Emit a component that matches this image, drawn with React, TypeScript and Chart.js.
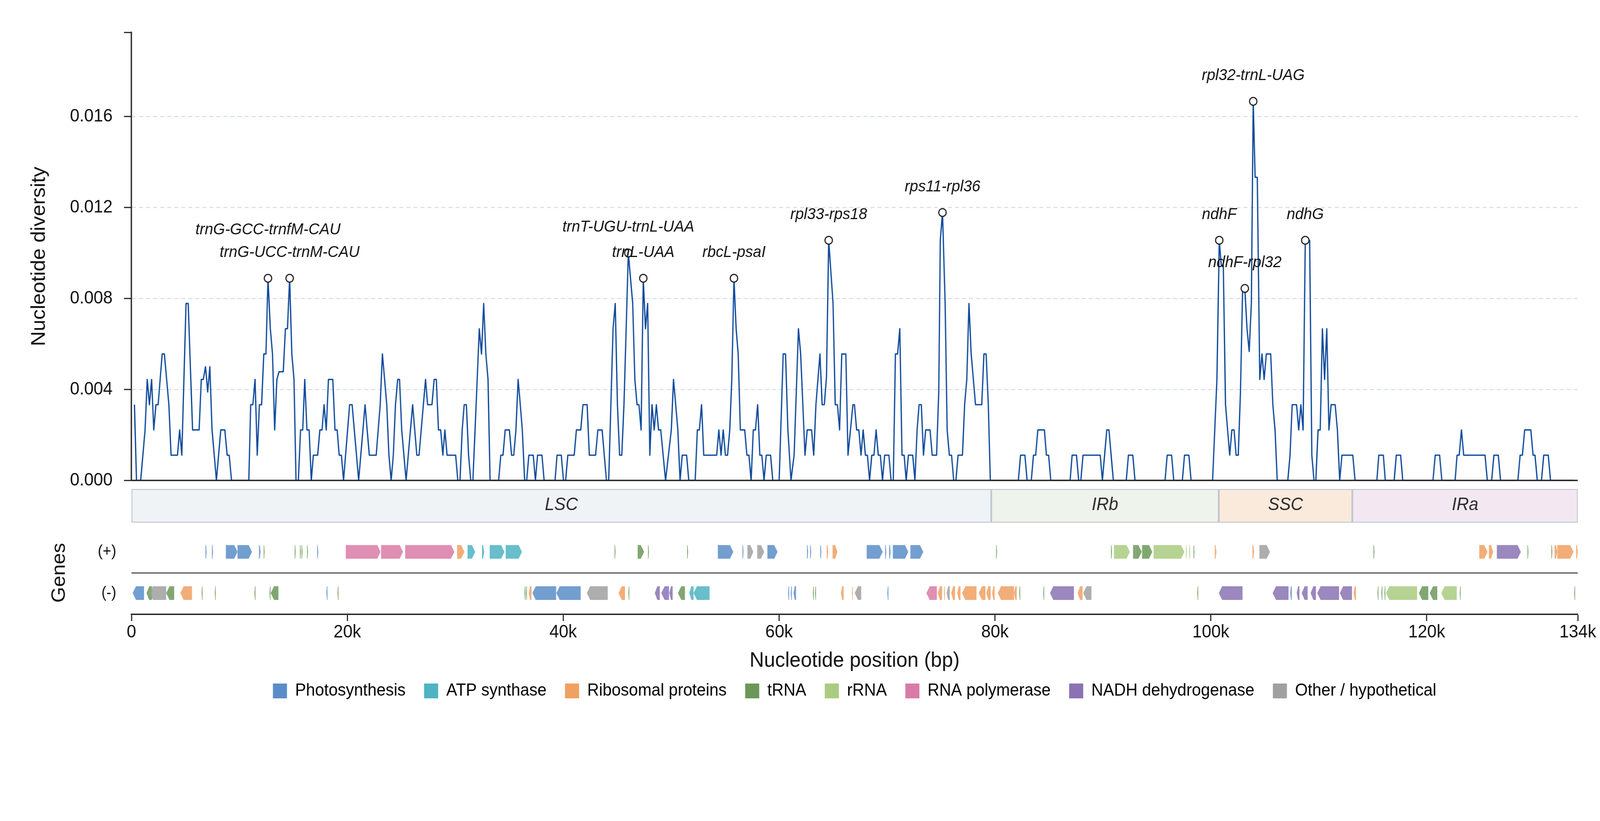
import React, { useEffect, useRef } from "react";
import { Chart, registerables } from "chart.js";

Chart.register(...registerables);

// ---------------- data ----------------
const GENOME_LENGTH = 134000;
const X_TICK_VALUES = [0, 20000, 40000, 60000, 80000, 100000, 120000, 134000];
const Y_TICK_VALUES = [0, 0.004, 0.008, 0.012, 0.016];
const Y_AXIS_MAX = 0.0197;

// sliding-window vertices (bp) and nucleotide diversity (Pi)
const WINDOW_POSITIONS = [
  280, 468, 857, 1262, 1464, 1666, 1868, 2070, 2272, 2474,
  2849, 3051, 3470, 3672, 4264, 4466, 4668, 5058, 5260, 5664,
  6270, 6472, 6660, 6862, 7064, 7266, 7469, 7873, 8277, 8652,
  8869, 9057, 9273, 10875, 11048, 11251, 11453, 11655, 11857, 12059,
  12261, 12463, 12651, 12867, 13069, 13271, 13474, 13676, 14065, 14267,
  14455, 14657, 14859, 15061, 15249, 15464, 15668, 15870, 16057, 16259,
  16462, 16664, 16851, 17255, 17458, 17660, 17847, 18049, 18252, 18656,
  18858, 19060, 19248, 19450, 19652, 20215, 20446, 21052, 21644,
  22039, 22674, 23049, 23251, 23655, 23857, 24060, 24262, 24464, 24666,
  24839, 25041, 25446, 26052, 26441, 26644, 27250, 27438, 27842, 28044,
  28246, 28448, 28650, 28852, 29040, 29242, 30036, 30238, 30440, 30642,
  30830, 31032, 31234, 31436, 31638, 32229, 32432, 32634, 32836, 33038,
  33226, 34020, 34222, 34424, 34626, 35016, 35218, 35420, 35622, 35824,
  36026, 36214, 36431, 36618, 36820, 37224, 37427, 37629, 38033, 38235,
  39245, 39433, 39823, 40025, 40227, 40429, 41021, 41223, 41627, 41829,
  42219, 42421, 42998, 43215, 43605, 44009,
  44216, 44621, 44823, 45025, 45227, 45429, 45631, 46036, 46439, 46641,
  46844, 47017, 47219, 47421, 47623, 47825, 48027, 48229, 48431, 48633,
  48836, 49038, 49485, 50019, 50221, 50625, 50828, 51030, 51434, 51636,
  52228, 52430, 52618, 52820, 53022, 54220, 54422, 54624, 54826, 55028,
  55230, 55432, 55620, 55822, 56024, 56212, 56414, 56818, 57020, 57208,
  57410, 57612, 57814, 58016, 58218, 58406, 58608, 58810, 59214, 59416,
  60008, 60383, 60600, 60817, 61105, 61394, 61798, 62000, 62404, 62607,
  63011, 63213, 63415, 63790, 63992, 64194, 64396, 64599, 65003, 65205,
  65407, 65609, 65811, 66186, 66388,
  66841, 66986, 67188, 67390, 67592, 67794, 67997, 68185, 68387, 68589,
  68790, 68992, 69194, 69382, 69584, 69786, 70176, 70378, 70580, 70782,
  70984, 71186, 71388, 71590, 71778, 71980, 72384, 72586, 72789, 72976,
  73178, 73380, 73583, 73987, 74189, 74593, 74795, 74939, 75141, 75387,
  75575, 75777, 75979, 76181, 76383, 76585, 76989, 77191, 77393, 77595,
  77798, 78202, 78779, 78981, 79183, 79385, 79573, 82171, 82373, 82777,
  82980, 83369, 83571, 83773, 83976, 84582, 84770, 84972, 85174, 86964,
  87151, 87555, 87757, 87960, 88162,
  89755, 89957, 90361, 90564, 90968, 92166, 92368, 92772, 92974, 95760,
  95962, 96366, 96570, 97362, 97564, 97969, 98171, 100163, 100567, 100783,
  100971, 101159, 101361, 101751, 101953, 102155, 102342, 102544, 102746, 102949,
  103151, 103353, 103555, 103757, 103930, 104104, 104306, 104537, 104739, 104941,
  105143, 105547, 105749, 105951, 106153, 107135, 107337, 107539, 107943, 108145,
  108347, 108549, 108751, 109156, 109358, 109560, 109733, 109935, 110137, 110339,
  110541, 110744, 110945, 111147,
  111520, 111730, 111940, 112149, 113153, 113363, 115385, 115565, 115984, 116164,
  116988, 117183, 117587, 117782, 120583, 120793, 121197, 121407, 122635, 122815,
  123010, 123220, 123429, 125407, 125617, 126021, 126231, 126635, 126845, 128448,
  128658, 128867, 129077, 129646, 129856, 130036, 130245, 130635, 130845, 131264,
  131474, 133600,
];

const NUCLEOTIDE_DIVERSITY = [
  0.00333, 0, 0, 0.00222, 0.00444, 0.00333, 0.00444, 0.00222, 0.00333, 0.00333,
  0.00556, 0.00556, 0.00333, 0.00111, 0.00111, 0.00222, 0.00111, 0.00778, 0.00778, 0.00222,
  0.00222, 0.00444, 0.00444, 0.005, 0.00389, 0.005, 0.00222, 0, 0.00222, 0.00222,
  0.00111, 0.00111, 0, 0, 0.00333, 0.00333, 0.00444, 0.00111, 0.00333, 0.00333,
  0.00556, 0.00556, 0.00889, 0.00667, 0.00556, 0.00222, 0.00444, 0.00478, 0.00478, 0.00667,
  0.00667, 0.00889, 0.00556, 0.00444, 0, 0, 0.00222, 0.00222, 0.00444, 0.00222,
  0.00222, 0, 0.00111, 0.00111, 0.00222, 0.00222, 0.00333, 0.00222, 0.00444, 0.00444,
  0.00222, 0.00222, 0.00111, 0.00111, 0, 0.00333, 0.00333, 0, 0.00333,
  0.00111, 0.00111, 0.00333, 0.00556, 0.00333, 0.00111, 0, 0.00111, 0.00333, 0.00444,
  0.00444, 0.00222, 0, 0.00333, 0.00111, 0.00111, 0.00444, 0.00333, 0.00333, 0.00444,
  0.00444, 0.00222, 0.00222, 0.00111, 0.00222, 0.00111, 0.00111, 0, 0, 0.00222,
  0.00333, 0.00333, 0.00111, 0, 0, 0.00667, 0.00556, 0.00778, 0.00556, 0.00444,
  0, 0, 0.00111, 0.00111, 0.00222, 0.00222, 0.00111, 0.00111, 0.00222, 0.00444,
  0.00333, 0.00222, 0, 0, 0.00111, 0.00111, 0, 0.00111, 0.00111, 0,
  0, 0.00111, 0.00111, 0, 0, 0.00111, 0.00111, 0.00222, 0.00222, 0.00333,
  0.00333, 0.00111, 0.00111, 0.00222, 0.00222, 0,
  0, 0.00667, 0.00778, 0.00333, 0.00111, 0.00111, 0.00333, 0.01, 0.00778, 0.00444,
  0.00333, 0.00333, 0.00222, 0.00889, 0.00667, 0.00778, 0.00111, 0.00333, 0.00222, 0.00333,
  0.00222, 0.00222, 0, 0.00222, 0.00444, 0.00222, 0, 0.00111, 0.00111, 0,
  0, 0.00222, 0.00222, 0.00333, 0.00111, 0.00111, 0.00222, 0.00111, 0.00222, 0.00111,
  0.00111, 0.00222, 0.00444, 0.00889, 0.00667, 0.00556, 0.00222, 0.00222, 0.00111, 0.00111,
  0, 0.00222, 0.00222, 0.00333, 0.00111, 0.00111, 0, 0.00111, 0.00111, 0,
  0, 0.00556, 0.00556, 0.00222, 0, 0.00111, 0.00667, 0.00556, 0.00111, 0.00222,
  0.00222, 0.00111, 0.00333, 0.00556, 0.00333, 0.00333, 0.00456, 0.01056, 0.00778, 0.00333,
  0.00333, 0.00222, 0.00556, 0.00556, 0.00111,
  0.00333, 0.00333, 0.00222, 0.00222, 0.00111, 0.00222, 0.00111, 0.00111, 0, 0.00111,
  0.00111, 0.00222, 0.00111, 0.00111, 0, 0.00111, 0.00111, 0, 0, 0.00556,
  0.00556, 0.00667, 0.00111, 0.00111, 0, 0.00111, 0.00111, 0, 0.00222, 0.00333,
  0.00333, 0.00111, 0.00222, 0.00222, 0.00111, 0.00111, 0.00389, 0.01056, 0.01178, 0.00778,
  0.00222, 0.00111, 0.00111, 0, 0, 0.00111, 0.00111, 0.00333, 0.00444, 0.00778,
  0.00556, 0.00333, 0.00333, 0.00556, 0.00556, 0.00333, 0, 0, 0.00111, 0.00111,
  0, 0, 0.00111, 0.00111, 0.00222, 0.00222, 0.00111, 0.00111, 0, 0,
  0.00111, 0.00111, 0, 0, 0.00111,
  0.00111, 0, 0.00222, 0.00222, 0, 0, 0.00111, 0.00111, 0, 0,
  0.00111, 0.00111, 0, 0, 0.00111, 0.00111, 0, 0, 0.00444, 0.01056,
  0.00944, 0.00944, 0.00333, 0.00111, 0.00222, 0.00222, 0.00111, 0.00111, 0.00389, 0.00844,
  0.00844, 0.00667, 0.00567, 0.00778, 0.01667, 0.01333, 0.01333, 0.00444, 0.00556, 0.00444,
  0.00556, 0.00556, 0.00333, 0.00222, 0, 0, 0.00111, 0.00333, 0.00333, 0.00222,
  0.00333, 0.00222, 0.01056, 0.01056, 0.00111, 0, 0, 0.00222, 0.00222, 0.00667,
  0.00444, 0.00667, 0.00222, 0.00333,
  0.00333, 0.00222, 0, 0.00111, 0.00111, 0, 0, 0.00111, 0.00111, 0,
  0, 0.00111, 0.00111, 0, 0, 0.00111, 0.00111, 0, 0, 0.00111,
  0.00111, 0.00222, 0.00111, 0.00111, 0, 0, 0.00111, 0.00111, 0, 0,
  0.00111, 0.00111, 0.00222, 0.00222, 0.00111, 0.00111, 0, 0, 0.00111, 0.00111,
  0, 0,
];

// highlighted hotspots
const PEAK_NAMES = [
  "trnG-GCC-trnfM-CAU", "trnG-UCC-trnM-CAU", "trnT-UGU-trnL-UAA", "trnL-UAA",
  "rbcL-psaI", "rpl33-rps18", "rps11-rpl36", "ndhF", "ndhF-rpl32",
  "rpl32-trnL-UAG", "ndhG",
];
const PEAK_POSITIONS = [12651, 14657, 46036, 47421, 55822, 64599, 75141, 100783, 103151, 103930, 108751];
const PEAK_DIVERSITY = [0.00889, 0.00889, 0.01, 0.00889, 0.00889, 0.01056, 0.01178, 0.01056, 0.00844, 0.01667, 0.01056];

// genome regions
const REGION_NAMES = ["LSC", "IRb", "SSC", "IRa"];
const REGION_START = [0, 79658, 100735, 113110];
const REGION_END = [79658, 100735, 113110, 134000];

// gene categories
const CATEGORY_NAMES = [
  "Photosynthesis", "ATP synthase", "Ribosomal proteins", "tRNA",
  "rRNA", "RNA polymerase", "NADH dehydrogenase", "Other / hypothetical",
];

// [start, end, category index]
const PLUS_STRAND_GENES = [
  [6860, 6960, 0], [7460, 7560, 0], [8750, 9830, 0], [9830, 11170, 0], [11820, 11960, 0],
  [12250, 12340, 3], [15130, 15220, 3], [15610, 15700, 3], [15760, 15850, 3], [16270, 16360, 3],
  [17210, 17310, 0], [19860, 23080, 5], [23130, 25160, 5], [25360, 29920, 5], [30170, 30850, 2],
  [31140, 31850, 1], [32480, 32680, 1], [33190, 34560, 1], [34670, 36180, 1],
  [44760, 44850, 3], [46900, 47490, 3], [47860, 47950, 3], [51480, 51570, 3],
  [54330, 55760, 0], [56610, 56710, 0], [57070, 57610, 7], [57980, 58630, 7], [58920, 59860, 0],
  [62590, 62690, 0], [62880, 62980, 0], [63820, 63920, 0], [64420, 64560, 2], [64960, 65410, 2],
  [68120, 69600, 0], [69830, 69930, 0], [70200, 70340, 0], [70540, 71970, 0], [72170, 73360, 0],
  [80110, 80200, 3], [90750, 90840, 3], [91030, 92500, 4], [92800, 93600, 3], [93000, 93090, 7],
  [93630, 94580, 3], [94700, 97550, 4], [97700, 97790, 4], [98000, 98090, 4], [98400, 98490, 3],
  [100370, 100520, 2], [103860, 104010, 2], [104500, 105480, 7], [115070, 115160, 3],
  [124870, 125640, 2], [125760, 126160, 2], [126500, 128730, 6], [129340, 129430, 3],
  [131550, 131640, 3], [131850, 132100, 2], [132100, 133600, 2], [133850, 134000, 2],
];

const MINUS_STRAND_GENES = [
  [114, 1170, 0], [1400, 1900, 3], [1680, 3220, 7], [3220, 3960, 3], [4530, 5610, 2],
  [6500, 6590, 3], [7720, 7810, 3], [11400, 11490, 3], [12790, 12880, 3], [12900, 13620, 3],
  [18060, 18160, 0], [19090, 19180, 3], [36410, 36500, 3], [36550, 36640, 3], [36810, 37060, 2],
  [37150, 39350, 0], [39370, 41620, 0], [42190, 44130, 7], [45130, 45730, 2], [46040, 46130, 3],
  [48490, 48950, 6], [49090, 49800, 6], [49830, 50140, 6], [50630, 51280, 3], [51680, 52080, 1],
  [52080, 53560, 1], [60830, 60930, 0], [61080, 61180, 0], [61340, 61570, 0], [63130, 63220, 3],
  [63330, 63420, 3], [65730, 65980, 2], [66750, 66830, 2], [67010, 67610, 7], [70030, 70130, 0],
  [73650, 74620, 5], [74700, 75100, 2], [75270, 75360, 2], [75530, 75810, 7], [75950, 76300, 2],
  [76500, 76810, 2], [76950, 78290, 2], [78490, 79120, 2], [79200, 79600, 2], [79740, 79970, 2],
  [80260, 81770, 2], [81770, 82020, 2], [82250, 82340, 3], [84470, 84560, 3], [85100, 87320, 6],
  [87660, 88120, 2], [88180, 88940, 7], [98740, 98830, 3], [100740, 102940, 6], [105730, 107200, 6],
  [107350, 107500, 0], [107960, 108210, 6], [108420, 108970, 6], [109250, 109740, 6],
  [109860, 111880, 6], [111950, 113080, 6], [113230, 113450, 2], [115440, 115530, 3],
  [115800, 115890, 3], [116080, 116170, 3], [116230, 119110, 4], [119270, 120150, 3],
  [120280, 120980, 3], [120700, 120790, 7], [121350, 122790, 4], [123060, 123150, 3],
  [133660, 133750, 3],
];

// ---------------- styles / layout ----------------
const W = 4322;
const H = 2102;
const FONT = "'Liberation Sans', Arial, Helvetica, sans-serif";
const LINE_COLOR = "#0E4A9C";
const CATEGORY_COLORS = ["#5A8DC8", "#4EB3C2", "#F0A062", "#6B9858", "#AACB80", "#D97BA5", "#8A73B3", "#A0A0A0"];
const REGION_COLORS = ["#EFF3F6", "#EEF3EB", "#FAEADB", "#F3E8F2"];
const PEAK_LABEL_LIFT = [124, 66, 66, 66, 66, 66, 66, 66, 66, 66, 66];
const GENE_ALPHA = 0.85;
// track-scale row positions (scale units = px within each stacked panel)
const REGION_PANEL = 130;
const REGION_ROW = 65;
const GENE_PANEL = 213;
const PLUS_ROW = 53;
const SEP_ROW = 107;
const MINUS_ROW = 158.5;

function withAlpha(hex: string, a: number) {
  const n = parseInt(hex.slice(1), 16);
  return `rgba(${(n >> 16) & 255}, ${(n >> 8) & 255}, ${n & 255}, ${a})`;
}

const trackPlugin = {
  id: "trackDraw",
  beforeDatasetDraw(chart: any, args: any) {
    const ds = chart.data.datasets[args.index];
    if (!ds || ds.role !== "genes") return;
    const ctx = chart.ctx;
    ctx.save();
    args.meta.data.forEach((el: any, i: number) => {
      const p = el.getProps(["x", "y", "base", "height"], true);
      const left = Math.min(p.x, p.base);
      const right = Math.max(p.x, p.base);
      const top = p.y - p.height / 2;
      const bottom = p.y + p.height / 2;
      const w = right - left;
      const tip = Math.min(9, w * 0.5);
      const strand = ds.data[i].strand;
      ctx.beginPath();
      if (strand > 0) {
        ctx.moveTo(left, top);
        ctx.lineTo(right - tip, top);
        ctx.lineTo(right, p.y);
        ctx.lineTo(right - tip, bottom);
        ctx.lineTo(left, bottom);
      } else {
        ctx.moveTo(right, top);
        ctx.lineTo(left + tip, top);
        ctx.lineTo(left, p.y);
        ctx.lineTo(left + tip, bottom);
        ctx.lineTo(right, bottom);
      }
      ctx.closePath();
      ctx.fillStyle = ds.backgroundColor;
      ctx.fill();
    });
    ctx.restore();
    return false;
  },
  afterDatasetsDraw(chart: any) {
    const ctx = chart.ctx;
    chart.data.datasets.forEach((ds: any, di: number) => {
      const meta = chart.getDatasetMeta(di);
      if (ds.role === "regions") {
        ctx.save();
        ctx.font = `italic 46px ${FONT}`;
        ctx.fillStyle = "#2a2a2a";
        ctx.textAlign = "center";
        ctx.textBaseline = "middle";
        meta.data.forEach((el: any, i: number) => {
          const p = el.getProps(["x", "y", "base"], true);
          ctx.fillText(REGION_NAMES[i], (p.x + p.base) / 2, p.y - 2);
        });
        ctx.restore();
      }
      if (ds.role === "peaks") {
        ctx.save();
        ctx.font = `italic 41px ${FONT}`;
        ctx.fillStyle = "#111";
        ctx.textAlign = "center";
        ctx.textBaseline = "middle";
        meta.data.forEach((el: any, i: number) => {
          const p = el.getProps(["x", "y"], true);
          ctx.fillText(PEAK_NAMES[i], p.x, p.y - PEAK_LABEL_LIFT[i]);
        });
        ctx.restore();
      }
    });
  },
};

export default function App() {
  const canvasRef = useRef<HTMLCanvasElement | null>(null);

  useEffect(() => {
    document.documentElement.style.margin = "0";
    document.documentElement.style.overflow = "hidden";
    document.body.style.margin = "0";
    document.body.style.overflow = "hidden";
    const canvas = canvasRef.current;
    if (!canvas) return;
    Chart.defaults.font.family = FONT;

    const datasets: any[] = [];
    datasets.push({
      type: "line",
      role: "peaks",
      label: "peaks",
      data: PEAK_POSITIONS.map((x, i) => ({ x, y: PEAK_DIVERSITY[i] })),
      showLine: false,
      pointRadius: 10,
      pointBorderWidth: 3,
      pointBackgroundColor: "#ffffff",
      pointBorderColor: "#222222",
      xAxisID: "x",
      yAxisID: "yDiv",
      order: 0,
      clip: false,
    });
    datasets.push({
      type: "line",
      role: "zero",
      label: "zero",
      data: [{ x: 0, y: 0 }, { x: GENOME_LENGTH, y: 0 }],
      borderColor: "#222222",
      borderWidth: 3.5,
      pointRadius: 0,
      xAxisID: "x",
      yAxisID: "yDiv",
      order: 1,
      clip: false,
    });
    datasets.push({
      type: "line",
      role: "pi",
      label: "Pi",
      data: WINDOW_POSITIONS.map((x, i) => ({ x, y: NUCLEOTIDE_DIVERSITY[i] })),
      borderColor: LINE_COLOR,
      borderWidth: 3.4,
      pointRadius: 0,
      tension: 0,
      borderJoinStyle: "round",
      xAxisID: "x",
      yAxisID: "yDiv",
      order: 2,
    });
    datasets.push({
      type: "bar",
      role: "regions",
      label: "regions",
      indexAxis: "y",
      data: REGION_NAMES.map((_, i) => ({ x: [REGION_START[i], REGION_END[i]], y: REGION_ROW })),
      backgroundColor: REGION_COLORS,
      borderColor: "#BDC6CE",
      borderWidth: 2.6,
      borderSkipped: false,
      barThickness: 86,
      grouped: false,
      xAxisID: "x",
      yAxisID: "yReg",
      order: 6,
    });
    datasets.push({
      type: "line",
      role: "sep",
      label: "sep",
      data: [{ x: 0, y: SEP_ROW }, { x: GENOME_LENGTH, y: SEP_ROW }],
      borderColor: "#333333",
      borderWidth: 2.6,
      pointRadius: 0,
      xAxisID: "x",
      yAxisID: "yGenes",
      order: 5,
      clip: false,
    });
    CATEGORY_NAMES.forEach((name, c) => {
      const plus = PLUS_STRAND_GENES.filter((g) => g[2] === c).map((g) => ({ x: [g[0], g[1]], y: PLUS_ROW, strand: 1 }));
      const minus = MINUS_STRAND_GENES.filter((g) => g[2] === c).map((g) => ({ x: [g[0], g[1]], y: MINUS_ROW, strand: -1 }));
      datasets.push({
        type: "bar",
        role: "genes",
        label: name,
        indexAxis: "y",
        data: [...plus, ...minus],
        backgroundColor: withAlpha(CATEGORY_COLORS[c], GENE_ALPHA),
        borderWidth: 0,
        barThickness: 35,
        grouped: false,
        xAxisID: "x",
        yAxisID: "yGenes",
        order: 30 - c,
      });
    });

    const fixedWidth = (s: any) => { s.width = 355; };

    const chart = new Chart(canvas, {
      type: "line",
      data: { datasets },
      plugins: [trackPlugin],
      options: {
        animation: false,
        responsive: false,
        devicePixelRatio: 1,
        events: [],
        layout: { autoPadding: false, padding: { top: 83, right: 60, bottom: 301, left: 0 } },
        plugins: {
          tooltip: { enabled: false },
          legend: {
            display: true,
            position: "bottom",
            fullSize: false,
            onClick: () => {},
            labels: {
              font: { size: 44 },
              color: "#111",
              boxWidth: 38,
              boxHeight: 38,
              padding: 50,
              generateLabels: () =>
                CATEGORY_NAMES.map((t, i) => ({
                  text: t,
                  fillStyle: CATEGORY_COLORS[i],
                  strokeStyle: CATEGORY_COLORS[i],
                  lineWidth: 0,
                  hidden: false,
                  index: i,
                })),
            },
          },
        },
        scales: {
          x: {
            type: "linear",
            position: "bottom",
            min: 0,
            max: GENOME_LENGTH,
            offset: false,
            afterBuildTicks: (s: any) => { s.ticks = X_TICK_VALUES.map((v) => ({ value: v })); },
            afterFit: (s: any) => { s.height = 124; },
            ticks: {
              autoSkip: false,
              maxRotation: 0,
              font: { size: 46 },
              color: "#111",
              padding: 2,
              callback: (v: any) => (Number(v) === 0 ? "0" : `${Number(v) / 1000}k`),
            },
            grid: { drawOnChartArea: false, drawTicks: true, tickLength: 17, tickWidth: 3, tickColor: "#222", color: "#222" },
            border: { display: true, color: "#222", width: 3.5 },
            title: { display: true, text: "Nucleotide position (bp)", font: { size: 54 }, color: "#111", padding: { top: 0, bottom: -28 } },
          },
          yDiv: {
            type: "linear",
            position: "left",
            stack: "left",
            stackWeight: 1147,
            weight: 3,
            min: 0,
            max: Y_AXIS_MAX,
            offset: false,
            afterBuildTicks: (s: any) => { s.ticks = [...Y_TICK_VALUES, Y_AXIS_MAX].map((v) => ({ value: v })); },
            afterFit: fixedWidth,
            ticks: {
              font: { size: 46 },
              color: "#111",
              padding: 31,
              callback: (v: any) => (Number(v) > 0.0175 ? "" : Number(v).toFixed(3)),
            },
            grid: {
              color: (ctx: any) =>
                ctx.tick && (ctx.tick.value === 0 || ctx.tick.value > 0.0175) ? "rgba(0,0,0,0)" : "#D5DCE2",
              lineWidth: 2.4,
              drawTicks: true,
              tickLength: 20,
              tickWidth: 3,
              tickColor: "#222",
            },
            border: { display: true, color: "#222", width: 3.5, dash: [11, 8] },
            title: { display: true, text: "Nucleotide diversity", font: { size: 53 }, color: "#111", padding: { top: 75, bottom: 0 } },
          },
          yReg: {
            type: "linear",
            position: "left",
            stack: "left",
            stackWeight: REGION_PANEL,
            weight: 2,
            min: 0,
            max: REGION_PANEL,
            reverse: true,
            offset: false,
            afterFit: fixedWidth,
            ticks: { display: false },
            grid: { display: false, offset: false },
            border: { display: false },
          },
          yGenes: {
            type: "linear",
            position: "left",
            stack: "left",
            stackWeight: GENE_PANEL,
            weight: 1,
            min: 0,
            max: GENE_PANEL,
            reverse: true,
            offset: false,
            afterBuildTicks: (s: any) => { s.ticks = [{ value: PLUS_ROW }, { value: MINUS_ROW }]; },
            afterFit: fixedWidth,
            ticks: {
              font: { size: 40 },
              color: "#111",
              padding: 33,
              callback: (v: any) => (Number(v) === PLUS_ROW ? "(+)" : "(-)"),
            },
            grid: { display: false, offset: false },
            border: { display: false },
            title: { display: true, text: "Genes", font: { size: 52 }, color: "#111", padding: { top: 129, bottom: 0 } },
          },
        },
      } as any,
    } as any);

    return () => chart.destroy();
  }, []);

  return (
    <div style={{ width: "100vw", height: "100vh", background: "#ffffff", overflow: "hidden" }}>
      <canvas ref={canvasRef} width={W} height={H} style={{ width: "100vw", height: "100vh", display: "block" }} />
    </div>
  );
}
